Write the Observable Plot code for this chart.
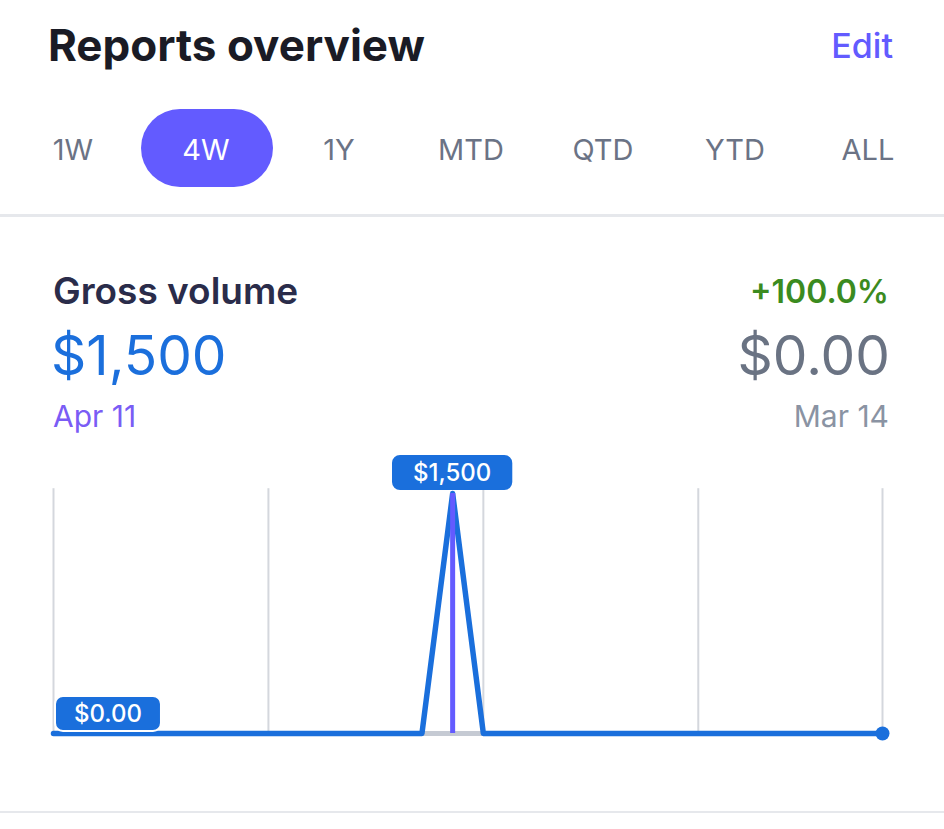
<!DOCTYPE html>
<html><head><meta charset="utf-8">
<script src="https://cdn.jsdelivr.net/npm/d3@7"></script>
<script src="https://cdn.jsdelivr.net/npm/@observablehq/plot@0.6"></script>
<style>
html,body{margin:0;padding:0;background:#fff;}
body{font-family:Inter,"Noto Sans",sans-serif;}
#page{position:relative;width:944px;height:829px;overflow:hidden;background:#fff;}
.abs{position:absolute;white-space:nowrap;line-height:1;}
.tab{position:absolute;top:135px;width:132px;text-align:center;font-size:29px;color:#6b7385;line-height:1;}
#chart{position:absolute;left:0;top:450px;}
</style></head><body><div id="page">
<div class="abs" style="left:48px;top:23px;font-size:44px;font-weight:700;color:#1a1b25">Reports overview</div>
<div class="abs" style="right:51px;top:29px;font-size:34px;font-weight:500;color:#635bff">Edit</div>
<div class="abs" style="left:141px;top:109px;width:132px;height:78px;border-radius:39px;background:#635bff"></div>
<div id="tabs"></div>
<div class="abs" style="left:0;top:214px;width:944px;height:3px;background:#e6e8ec"></div>
<div class="abs" style="left:53px;top:272px;font-size:37px;font-weight:600;color:#2a2c4a">Gross volume</div>
<div class="abs" style="right:55px;top:276px;font-size:32px;font-weight:600;color:#3b8b1f">+100.0%</div>
<div class="abs" style="left:51px;top:328px;font-size:55px;font-weight:400;color:#1b6fdc">$1,500</div>
<div class="abs" style="right:54px;top:328px;font-size:55px;font-weight:400;color:#6a7383">$0.00</div>
<div class="abs" style="left:53px;top:401px;font-size:30px;font-weight:400;color:#7a5cf5">Apr 11</div>
<div class="abs" style="right:55px;top:401px;font-size:30px;font-weight:400;color:#8a93a3">Mar 14</div>
<div id="chart"></div>
<div class="abs" style="left:0;top:811px;width:944px;height:2px;background:#e6e8ec"></div>
</div>
<script>
// ---- data ----
const tabLabels = ["1W", "4W", "1Y", "MTD", "QTD", "YTD", "ALL"];
const selectedTab = "4W";
const dayLabels = ["Mar 15","Mar 16","Mar 17","Mar 18","Mar 19","Mar 20","Mar 21","Mar 22","Mar 23","Mar 24","Mar 25","Mar 26","Mar 27","Mar 28","Mar 29","Mar 30","Mar 31","Apr 1","Apr 2","Apr 3","Apr 4","Apr 5","Apr 6","Apr 7","Apr 8","Apr 9","Apr 10","Apr 11"];
const currentValues = [0,0,0,0,0,0,0,0,0,0,0,0,0,1500,0,0,0,0,0,0,0,0,0,0,0,0,0,0];
const previousValues = [0,0,0,0,0,0,0,0,0,0,0,0,0,0,0,0,0,0,0,0,0,0,0,0,0,0,0,0];
const gridDays = [0, 7, 14, 21, 27];
const hoverDay = 13;
const gridTop = 1530;

// ---- tabs ----
const tabCenters = [73, 206, 339, 471, 603, 735, 868];
const tabs = document.getElementById("tabs");
tabLabels.forEach((t, i) => {
  const d = document.createElement("div");
  d.className = "tab";
  d.style.left = (tabCenters[i] - 66) + "px";
  if (t === selectedTab) d.style.color = "#ffffff";
  d.textContent = t;
  tabs.appendChild(d);
});

const current = currentValues.map((v, i) => ({day: i, label: dayLabels[i], value: v}));
const previous = previousValues.map((v, i) => ({day: i, label: dayLabels[i], value: v}));

const fmtMoney = v => v === 0 ? "$0.00" : "$" + d3.format(",")(v);

function pill(data, {x, y, text, anchor = "middle", offsetX = 0, offsetY = -20, padX = 20, h = 35, fontSize = 24, fill = "#1a6fdc", outline = null}) {
  return Plot.text(data, {x, y, text, render(I, scales, values) {
    const T = Plot.valueof(data, text);
    const g = d3.create("svg:g");
    const ctx = document.createElement("canvas").getContext("2d");
    ctx.font = `500 ${fontSize}px Inter`;
    for (const i of I) {
      const label = T[i];
      const w = ctx.measureText(label).width + padX * 2;
      const cx = values.x[i] + offsetX;
      const cy = values.y[i] + offsetY;
      const left = anchor === "start" ? cx : cx - w / 2;
      const r = g.append("rect")
        .attr("x", left).attr("y", cy - h / 2)
        .attr("width", w).attr("height", h)
        .attr("rx", 8).attr("ry", 8)
        .attr("fill", fill);
      if (outline) r.attr("stroke", outline).attr("stroke-width", 2);
      g.append("text")
        .attr("x", left + w / 2).attr("y", cy)
        .attr("dy", "0.36em")
        .attr("text-anchor", "middle")
        .attr("fill", "#ffffff")
        .attr("font-family", "Inter")
        .attr("font-weight", 500)
        .attr("font-size", fontSize)
        .text(label);
    }
    return g.node();
  }});
}

const chart = Plot.plot({
  width: 944,
  height: 330,
  marginLeft: 53,
  marginRight: 62,
  marginTop: 43,
  marginBottom: 47,
  x: {domain: [0, 27], axis: null},
  y: {domain: [0, 1500], axis: null},
  style: {background: "transparent", overflow: "visible"},
  marks: [
    Plot.ruleX(gridDays, {x: d => d, y1: 0, y2: gridTop, stroke: "#d4d7dd", strokeWidth: 2}),
    Plot.line(previous, {x: "day", y: "value", stroke: "#c5cad3", strokeWidth: 5}),
    Plot.line(current, {x: "day", y: "value", stroke: "#1a6fdc", strokeWidth: 5.5}),
    Plot.ruleX([hoverDay], {x: d => d, y1: 0, y2: currentValues[hoverDay], stroke: "#635bff", strokeWidth: 5}),
    Plot.dot(current.slice(-1), {x: "day", y: "value", r: 7, fill: "#1a6fdc", stroke: "none"}),
    pill(current.filter(d => d.day === hoverDay), {x: "day", y: "value", text: d => fmtMoney(d.value), offsetY: -20.5, padX: 21}),
    pill(previous.slice(0, 1), {x: "day", y: "value", text: d => fmtMoney(d.value), anchor: "start", offsetX: 2, offsetY: -19.5, padX: 19, outline: "#ffffff"})
  ]
});
document.getElementById("chart").appendChild(chart);
</script>
</body></html>
